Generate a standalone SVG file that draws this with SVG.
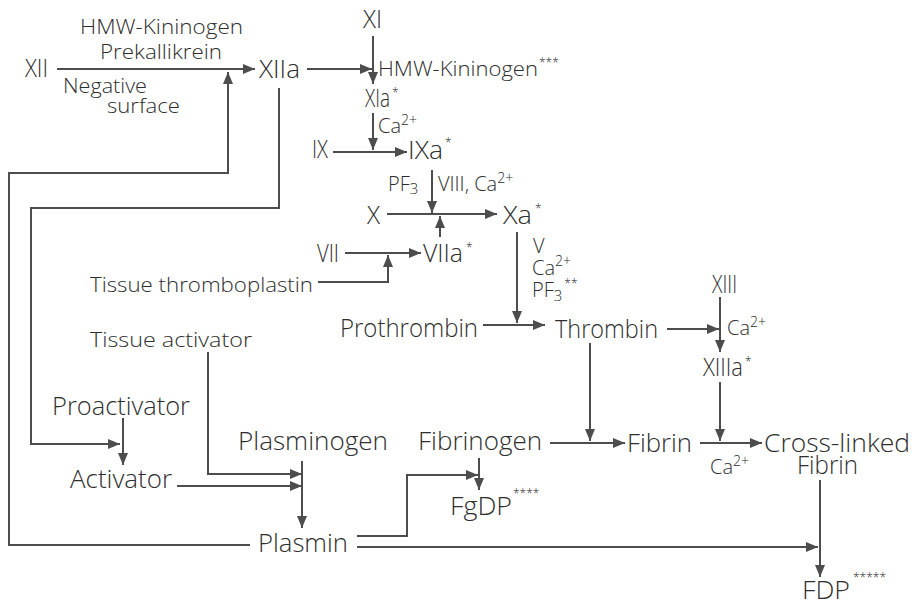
<svg xmlns="http://www.w3.org/2000/svg" width="912" height="605" viewBox="0 0 912 605">
<style>
text{font-family:"Open Sans","Liberation Sans",sans-serif;font-weight:300;fill:#2e2e2e}
.L{font-size:25px}
.S{font-size:20px}
.sup{font-size:14px}
.st{font-size:12px}
.c{fill:none;stroke:#4d4d4d;stroke-width:2}
</style>
<defs>
<marker id="ah" markerUnits="userSpaceOnUse" markerWidth="13" markerHeight="11" refX="12" refY="5" orient="auto">
<path d="M0,0 L12,5 L0,10 z" fill="#4d4d4d"/>
</marker>
</defs>
<rect width="912" height="605" fill="#fff"/>
<g id="connectors">
<path class="c" d="M57,69 H255" marker-end="url(#ah)"/>
<path class="c" d="M250,545 H9 V173 H228 V72" marker-end="url(#ah)"/>
<path class="c" d="M279,88 V208 H31 V444 H120" marker-end="url(#ah)"/>
<path class="c" d="M307,69 H372" marker-end="url(#ah)"/>
<path class="c" d="M373,36 V84" marker-end="url(#ah)"/>
<path class="c" d="M373,113 V150" marker-end="url(#ah)"/>
<path class="c" d="M333,152 H407" marker-end="url(#ah)"/>
<path class="c" d="M432,170 V213" marker-end="url(#ah)"/>
<path class="c" d="M387,214 H497" marker-end="url(#ah)"/>
<path class="c" d="M440,237 V216" marker-end="url(#ah)"/>
<path class="c" d="M345,253 H421" marker-end="url(#ah)"/>
<path class="c" d="M318,282 H388 V255" marker-end="url(#ah)"/>
<path class="c" d="M517,232 V323" marker-end="url(#ah)"/>
<path class="c" d="M483,325 H545" marker-end="url(#ah)"/>
<path class="c" d="M667,329 H719" marker-end="url(#ah)"/>
<path class="c" d="M720,297 V352" marker-end="url(#ah)"/>
<path class="c" d="M720,382 V441" marker-end="url(#ah)"/>
<path class="c" d="M590,343 V441" marker-end="url(#ah)"/>
<path class="c" d="M550,443 H625" marker-end="url(#ah)"/>
<path class="c" d="M700,443 H762" marker-end="url(#ah)"/>
<path class="c" d="M820,480 V577" marker-end="url(#ah)"/>
<path class="c" d="M357,547 H818" marker-end="url(#ah)"/>
<path class="c" d="M357,536 H407 V475 H478" marker-end="url(#ah)"/>
<path class="c" d="M479,458 V490" marker-end="url(#ah)"/>
<path class="c" d="M302,461 V528" marker-end="url(#ah)"/>
<path class="c" d="M208,352 V474 H302" marker-end="url(#ah)"/>
<path class="c" d="M177,486 H302" marker-end="url(#ah)"/>
<path class="c" d="M123,418 V465" marker-end="url(#ah)"/>
</g>
<g id="n-XII"><text class="L" x="25" y="77" textLength="23" lengthAdjust="spacingAndGlyphs">XII</text></g>
<g id="n-XII-cofactors">
<text class="S" x="80" y="34" textLength="163" lengthAdjust="spacingAndGlyphs">HMW-Kininogen</text>
<text class="S" x="100" y="59" textLength="122" lengthAdjust="spacingAndGlyphs">Prekallikrein</text>
<text class="S" x="63" y="93" textLength="84" lengthAdjust="spacingAndGlyphs">Negative</text>
<text class="S" x="107" y="113" textLength="73" lengthAdjust="spacingAndGlyphs">surface</text>
</g>
<g id="n-XIIa"><text class="L" x="259" y="78" textLength="41" lengthAdjust="spacingAndGlyphs">XIIa</text></g>
<g id="n-XI"><text class="L" x="363" y="28" textLength="19" lengthAdjust="spacingAndGlyphs">XI</text></g>
<g id="n-HMW2"><text class="S" x="378" y="76"><tspan textLength="160" lengthAdjust="spacingAndGlyphs">HMW-Kininogen</tspan><tspan class="st" dx="1" dy="-9">***</tspan></text></g>
<g id="n-XIa"><text class="L" x="365" y="107"><tspan textLength="25" lengthAdjust="spacingAndGlyphs">XIa</tspan><tspan class="st" dx="2" dy="-10">*</tspan></text></g>
<g id="n-Ca1"><text class="S" x="378" y="133">Ca<tspan class="sup" dy="-8">2+</tspan></text></g>
<g id="n-IX"><text class="L" x="312" y="158" textLength="16" lengthAdjust="spacingAndGlyphs">IX</text></g>
<g id="n-IXa"><text class="L" x="408" y="159"><tspan textLength="35" lengthAdjust="spacingAndGlyphs">IXa</tspan><tspan class="st" dx="2" dy="-12">*</tspan></text></g>
<g id="n-PF3a"><text class="S" x="388" y="191">PF<tspan dy="3" font-size="15">3</tspan></text></g>
<g id="n-VIII"><text class="S" x="438" y="191">VIII, Ca<tspan class="sup" dy="-8">2+</tspan></text></g>
<g id="n-X"><text class="L" x="367" y="224" textLength="13" lengthAdjust="spacingAndGlyphs">X</text></g>
<g id="n-Xa"><text class="L" x="503" y="224"><tspan textLength="29" lengthAdjust="spacingAndGlyphs">Xa</tspan><tspan class="st" dx="3" dy="-11">*</tspan></text></g>
<g id="n-VII"><text class="L" x="317" y="262" textLength="22" lengthAdjust="spacingAndGlyphs">VII</text></g>
<g id="n-VIIa"><text class="L" x="423" y="262"><tspan textLength="40" lengthAdjust="spacingAndGlyphs">VIIa</tspan><tspan class="st" dx="3" dy="-10">*</tspan></text></g>
<g id="n-TT"><text class="S" x="90" y="292" textLength="223" lengthAdjust="spacingAndGlyphs">Tissue thromboplastin</text></g>
<g id="n-Xa-cof">
<text class="S" y="253"><tspan x="533">V</tspan><tspan x="532" dy="22">Ca</tspan><tspan class="sup" dy="-9">2+</tspan><tspan x="532" dy="31">PF</tspan><tspan dy="4" font-size="15">3</tspan><tspan class="st" dx="2" dy="-13">**</tspan></text>
</g>
<g id="n-Prothrombin"><text class="L" x="340" y="337" textLength="138" lengthAdjust="spacingAndGlyphs">Prothrombin</text></g>
<g id="n-Thrombin"><text class="L" x="555" y="338" textLength="103" lengthAdjust="spacingAndGlyphs">Thrombin</text></g>
<g id="n-XIII"><text class="L" x="712" y="293" textLength="25" lengthAdjust="spacingAndGlyphs">XIII</text></g>
<g id="n-Ca2"><text class="S" x="727" y="335">Ca<tspan class="sup" dy="-8">2+</tspan></text></g>
<g id="n-XIIIa"><text class="L" x="703" y="376"><tspan textLength="40" lengthAdjust="spacingAndGlyphs">XIIIa</tspan><tspan class="st" dx="2" dy="-10">*</tspan></text></g>
<g id="n-TA"><text class="S" x="90" y="347" textLength="162" lengthAdjust="spacingAndGlyphs">Tissue activator</text></g>
<g id="n-Proactivator"><text class="L" x="52" y="415" textLength="138" lengthAdjust="spacingAndGlyphs">Proactivator</text></g>
<g id="n-Activator"><text class="L" x="70" y="488" textLength="102" lengthAdjust="spacingAndGlyphs">Activator</text></g>
<g id="n-Plasminogen"><text class="L" x="238" y="450" textLength="150" lengthAdjust="spacingAndGlyphs">Plasminogen</text></g>
<g id="n-Fibrinogen"><text class="L" x="418" y="450" textLength="124" lengthAdjust="spacingAndGlyphs">Fibrinogen</text></g>
<g id="n-Fibrin"><text class="L" x="627" y="452" textLength="65" lengthAdjust="spacingAndGlyphs">Fibrin</text></g>
<g id="n-CLF"><text class="L" y="452"><tspan x="764" textLength="146" lengthAdjust="spacingAndGlyphs">Cross-linked</tspan><tspan x="797" dy="22" textLength="61" lengthAdjust="spacingAndGlyphs">Fibrin</tspan></text></g>
<g id="n-Ca3"><text class="S" x="710" y="474">Ca<tspan class="sup" dy="-8">2+</tspan></text></g>
<g id="n-FgDP"><text class="L" x="450" y="515"><tspan textLength="62" lengthAdjust="spacingAndGlyphs">FgDP</tspan><tspan class="st" dx="1" dy="-17">****</tspan></text></g>
<g id="n-Plasmin"><text class="L" x="258" y="552" textLength="90" lengthAdjust="spacingAndGlyphs">Plasmin</text></g>
<g id="n-FDP"><text class="L" x="802" y="599"><tspan textLength="48" lengthAdjust="spacingAndGlyphs">FDP</tspan><tspan class="st" dx="3" dy="-17">*****</tspan></text></g>
</svg>
